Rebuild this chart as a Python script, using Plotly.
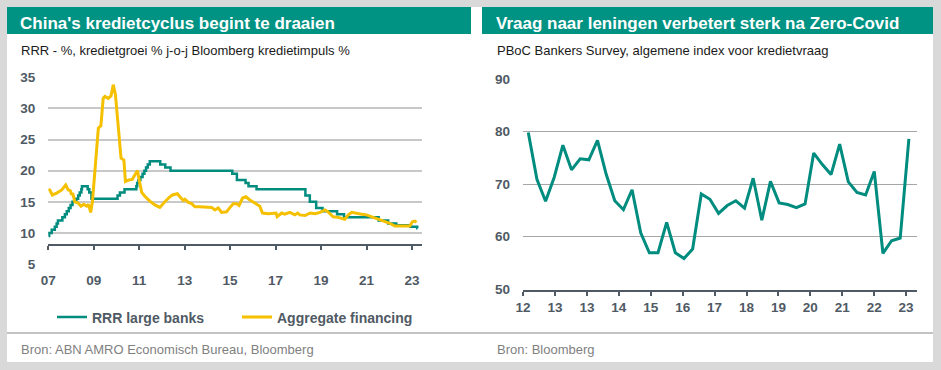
import plotly.graph_objects as go

W, H = 941, 370

def px(x):
    return x / W

def py(y):
    return 1 - y / H

# ---------------- data ----------------
rrr_dates = ["2007-01-01", "2007-01-15", "2007-02-25", "2007-04-16", "2007-05-15", "2007-06-05",
             "2007-08-15", "2007-09-25", "2007-10-25", "2007-11-26", "2007-12-25", "2008-01-25",
             "2008-03-25", "2008-04-25", "2008-05-20", "2008-06-15", "2008-06-25", "2008-09-25",
             "2008-10-20", "2008-11-25", "2010-01-18", "2010-02-25", "2010-05-10", "2010-11-16",
             "2010-11-29", "2010-12-20", "2011-01-20", "2011-02-24", "2011-03-25", "2011-04-21",
             "2011-05-18", "2011-06-20", "2011-12-05", "2012-02-24", "2012-05-18", "2015-02-05",
             "2015-04-20", "2015-09-06", "2015-10-24", "2016-03-01", "2018-04-25", "2018-07-05",
             "2018-10-15", "2019-01-25", "2019-09-16", "2020-01-06", "2021-07-15", "2021-12-15",
             "2022-04-25", "2022-12-05", "2023-03-27", "2023-03-31"]
rrr_values = [9.5, 10, 10.5, 11, 11.5, 12,
              12.5, 13, 13.5, 14, 14.5, 15,
              15.5, 16, 16.5, 17, 17.5, 17,
              16.5, 15.5, 16, 16.5, 17, 17.5,
              18, 18.5, 19, 19.5, 20, 20.5,
              21, 21.5, 21, 20.5, 20, 19.5,
              18.5, 18, 17.5, 17, 16, 15,
              14, 13.5, 13, 12.5, 12, 11.5,
              11.25, 11, 10.75, 10.75]

af_dates = ["2007-01-01", "2007-01-25", "2007-03-08", "2007-05-15", "2007-08-05", "2007-10-08",
            "2007-11-18", "2007-12-20", "2008-01-10", "2008-01-28", "2008-03-03", "2008-04-25",
            "2008-06-10", "2008-07-20", "2008-09-10", "2008-10-10", "2008-11-12", "2008-12-10",
            "2009-01-20", "2009-02-18", "2009-03-15", "2009-04-25", "2009-06-01", "2009-06-28",
            "2009-08-20", "2009-10-05", "2009-11-10", "2009-12-15", "2010-01-30", "2010-03-15",
            "2010-04-30", "2010-05-25", "2010-07-20", "2010-09-12", "2010-10-22", "2010-12-05",
            "2011-01-01", "2011-02-10", "2011-04-01", "2011-06-20", "2011-09-10", "2011-11-28",
            "2012-02-18", "2012-04-12", "2012-05-08", "2012-06-20", "2012-09-05", "2012-10-15",
            "2012-12-10", "2013-01-05", "2013-02-28", "2013-04-22", "2013-06-15", "2013-09-01",
            "2013-12-20", "2014-03-10", "2014-05-01", "2014-06-25", "2014-08-18", "2014-11-05",
            "2015-01-01", "2015-02-20", "2015-04-15", "2015-05-25", "2015-07-20", "2015-09-12",
            "2015-11-15", "2016-02-01", "2016-04-22", "2016-06-05", "2016-09-05", "2017-01-08",
            "2017-01-26", "2017-04-08", "2017-05-28", "2017-08-18", "2017-11-06", "2017-12-20",
            "2018-01-26", "2018-04-20", "2018-07-10", "2018-09-28", "2018-12-15", "2019-03-06",
            "2019-04-20", "2019-07-15", "2019-10-05", "2020-01-18", "2020-03-15", "2020-05-08",
            "2020-07-27", "2020-10-15", "2021-01-01", "2021-02-25", "2021-05-15", "2021-08-05",
            "2021-10-20", "2022-01-10", "2022-04-01", "2022-07-20", "2022-11-28", "2023-01-08",
            "2023-02-18", "2023-03-15"]
af_values = [17.0, 16.9, 16.1, 16.4, 16.9, 17.7,
             16.9, 16.8, 16.1, 16.4, 15.0, 14.8,
             14.3, 14.6, 14.3, 14.6, 13.3, 15.0,
             20.1, 23.1, 26.8, 27.2, 31.6, 31.9,
             31.6, 32.0, 33.8, 32.2, 27.6, 22.0,
             21.7, 18.25, 18.5, 18.6, 19.3, 20.0,
             18.5, 16.5, 15.9, 15.1, 14.5, 14.1,
             15.0, 15.6, 15.8, 16.1, 16.3, 15.8,
             15.2, 15.4, 14.9, 14.7, 14.2, 14.2,
             14.1, 14.1, 13.7, 14.0, 13.3, 13.4,
             14.1, 14.7, 14.7, 14.4, 15.6, 15.8,
             15.3, 14.8, 14.3, 13.2, 13.1, 13.2,
             12.6, 13.2, 13.0, 13.3, 12.9, 13.2,
             12.9, 12.8, 13.2, 13.1, 13.3, 13.7,
             13.4, 12.6, 12.5, 12.2, 12.9, 13.3,
             13.1, 13.0, 12.9, 12.7, 12.4, 12.1,
             11.8, 11.55, 11.1, 11.1, 11.1, 11.8,
             11.9, 11.7]

survey_values = [79.8, 70.9, 66.7, 71.3, 77.4, 72.7, 74.8, 74.6, 78.3, 71.9,
                 66.8, 65.1, 68.9, 60.7, 56.9, 56.9, 62.7, 56.9, 55.8, 57.6,
                 68.1, 67.1, 64.4, 65.9, 66.8, 65.4, 71.1, 63.1, 70.5, 66.4,
                 66.1, 65.5, 66.2, 75.9, 73.7, 71.8, 77.6, 70.4, 68.4, 67.9,
                 72.4, 56.8, 59.2, 59.7, 78.6]
survey_tick_labels = ["12", "13", "13", "14", "15", "16", "17", "18", "19", "20", "21", "22", "23"]

left_title = "China's kredietcyclus begint te draaien"
left_subtitle = "RRR - %, kredietgroei % j-o-j Bloomberg kredietimpuls %"
left_source = "Bron: ABN AMRO Economisch Bureau, Bloomberg"
right_title = "Vraag naar leningen verbetert sterk na Zero-Covid"
right_subtitle = "PBoC Bankers Survey, algemene index voor kredietvraag"
right_source = "Bron: Bloomberg"

# ---------------- style ----------------
FONT = "Arial, Liberation Sans, sans-serif"
HDR = "#009383"
TEAL = "#008C7E"
YELLOW = "#F5C000"
AXIS = "#505a64"
TICKFONT = dict(family=FONT, size=13.5, color=AXIS, weight="bold")

fig = go.Figure()

fig.add_trace(go.Scatter(x=rrr_dates, y=rrr_values, mode="lines", name="RRR large banks",
                         line=dict(color=TEAL, width=2.5, shape="hv"),
                         xaxis="x", yaxis="y", legend="legend"))
fig.add_trace(go.Scatter(x=af_dates, y=af_values, mode="lines", name="Aggregate financing",
                         line=dict(color=YELLOW, width=3),
                         xaxis="x", yaxis="y", legend="legend2"))
fig.add_trace(go.Scatter(x=list(range(len(survey_values))), y=survey_values, mode="lines",
                         line=dict(color=TEAL, width=3), showlegend=False,
                         xaxis="x2", yaxis="y2"))

# right axis tick positions (in category index units)
r_tick0, r_step = -0.6, 3.69
r_tickvals = [r_tick0 + r_step * k for k in range(len(survey_tick_labels))]

shapes = [
    dict(type="rect", xref="paper", yref="paper", x0=px(7), x1=px(933), y0=py(362), y1=py(7),
         fillcolor="white", line=dict(width=0), layer="below"),
    dict(type="rect", xref="paper", yref="paper", x0=px(7), x1=px(471), y0=py(34), y1=py(7),
         fillcolor=HDR, line=dict(width=0), layer="below"),
    dict(type="rect", xref="paper", yref="paper", x0=px(482), x1=px(933), y0=py(34), y1=py(7),
         fillcolor=HDR, line=dict(width=0), layer="below"),
    dict(type="line", xref="paper", yref="paper", x0=px(7), x1=px(933), y0=py(333), y1=py(333),
         line=dict(color="#c3c3c3", width=2), layer="below"),
]

def ann(text, x, y, size, color, bold=False):
    return dict(text=text, x=px(x), y=py(y), xref="paper", yref="paper", showarrow=False,
                xanchor="left", yanchor="middle",
                font=dict(family=FONT, size=size, color=color, weight="bold" if bold else "normal"))

annotations = [
    ann(left_title, 18, 23.5, 17, "white", True),
    ann(right_title, 494, 23.5, 17, "white", True),
    ann(left_subtitle, 18.5, 50.5, 13, "#1a1a1a"),
    ann(right_subtitle, 494.5, 50.5, 13, "#1a1a1a"),
    ann(left_source, 18.5, 349, 13, "#7f7f7f"),
    ann(right_source, 494.5, 349, 13, "#7f7f7f"),
]

legend_common = dict(orientation="h", bgcolor="rgba(0,0,0,0)", xanchor="left", yanchor="middle",
                     font=dict(family=FONT, size=14, color=AXIS, weight="bold"))

fig.update_layout(
    width=W, height=H,
    margin=dict(l=0, r=0, t=0, b=0, pad=0, autoexpand=False),
    paper_bgcolor="#d9d9d9",
    plot_bgcolor="rgba(0,0,0,0)",
    font=dict(family=FONT),
    shapes=shapes,
    annotations=annotations,
    legend=dict(x=px(52), y=py(317.5), **legend_common),
    legend2=dict(x=px(237), y=py(317.5), **legend_common),
    xaxis=dict(domain=[px(48.3), px(421.7)], type="date",
               range=["2007-01-01", "2023-06-07"], tick0="2007-01-01", dtick="M24",
               tickformat="%y", showgrid=False, zeroline=False,
               showline=True, linecolor=AXIS, linewidth=2,
               ticks="outside", ticklen=4, tickwidth=2, tickcolor=AXIS,
               anchor="free", position=py(245.3), ticklabelstandoff=18,
               tickfont=TICKFONT, automargin=False),
    yaxis=dict(domain=[py(264.4), py(76.9)], range=[4.95, 35.05], tick0=5, dtick=5,
               showgrid=True, gridcolor="#c8c8c8", gridwidth=2, zeroline=False,
               showline=False, ticks="", ticklabelstandoff=12, tickfont=TICKFONT, anchor="x",
               automargin=False),
    xaxis2=dict(domain=[px(523), px(917)], range=[-0.61, 44.94],
                tickmode="array", tickvals=r_tickvals, ticktext=survey_tick_labels,
                showgrid=False, zeroline=False,
                showline=True, linecolor=AXIS, linewidth=2,
                ticks="outside", ticklen=4, tickwidth=2, tickcolor=AXIS,
                anchor="y2", tickfont=TICKFONT, automargin=False),
    yaxis2=dict(domain=[py(289.5), py(78.5)], range=[49.9, 90.1], tick0=50, dtick=10,
                showgrid=True, gridcolor="#a6a6a6", gridwidth=1.3, zeroline=False,
                showline=False, ticks="", ticklabelstandoff=12, tickfont=TICKFONT, anchor="x2",
                automargin=False),
)

fig.write_html("out.html",
               config={"displayModeBar": False},
               post_script="document.body.style.margin='0';document.body.style.overflow='hidden';")
